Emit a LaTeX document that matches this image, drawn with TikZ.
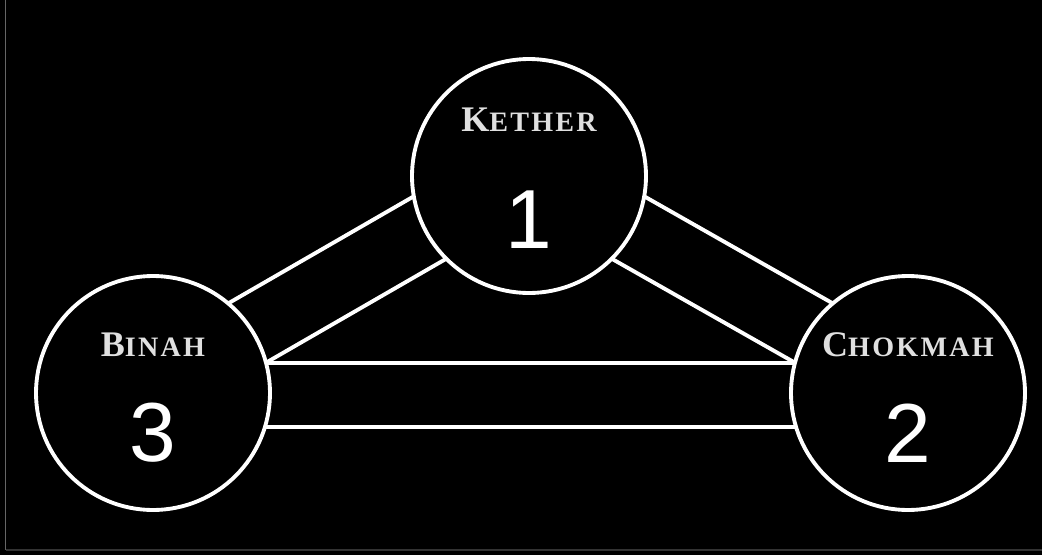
\documentclass[tikz,border=0pt]{standalone}
\usepackage{fontspec}
\setmainfont{Liberation Serif}
\newfontfamily\numfont{Liberation Sans}
\usetikzlibrary{positioning}

\newcommand{\scname}[2]{{\bfseries\addfontfeatures{LetterSpace=8}\fontsize{20.5}{20.5}\selectfont #1\fontsize{16}{16}\selectfont #2}}

\begin{document}
\begin{tikzpicture}[
    x=0.02cm, y=-0.02cm,
    sephira/.style={draw=white, circle, line width=2.2pt, inner sep=0pt, outer sep=0pt, minimum size=4.68cm},
    lbl/.style={text=white!88!black, inner sep=0pt},
    num/.style={text=white, inner sep=0pt, font=\numfont\fontsize{47.7}{47.7}\selectfont},
    path/.style={draw=white, line width=2.2pt}
]
\fill[black] (0,0) rectangle (1042,555);
\useasboundingbox (0,0) rectangle (1042,555);
\draw[black!60, line width=1pt] (5.5,0) -- (5.5,550);
\draw[black!80, line width=1pt] (5.5,550) -- (1042,550);

\node[sephira] (kether) at (529,176) {};
\node[sephira] (binah) at (153,393) {};
\node[sephira] (chokmah) at (908,393) {};

\node[lbl] (ketherlbl) at (529,120) {\scname{K}{ETHER}};
\node[num] (ketheno) at (529,220) {1};
\node[lbl] (binahlbl) at (153,345) {\scname{B}{INAH}};
\node[num] (binahno) at (153,433) {3};
\node[lbl] (chokmahlbl) at (908,345) {\scname{C}{HOKMAH}};
\node[num] (chokmahno) at (908,433) {2};

% paths between the three
\draw[path] (binah.50) -- (kether.190);
\draw[path] (binah.15) -- (kether.225);
\draw[path] (chokmah.130) -- (kether.350);
\draw[path] (chokmah.165) -- (kether.315);
\draw[path] (binah.15) -- (chokmah.165);
\draw[path] (binah.-17) -- (chokmah.197);
\end{tikzpicture}
\end{document}
